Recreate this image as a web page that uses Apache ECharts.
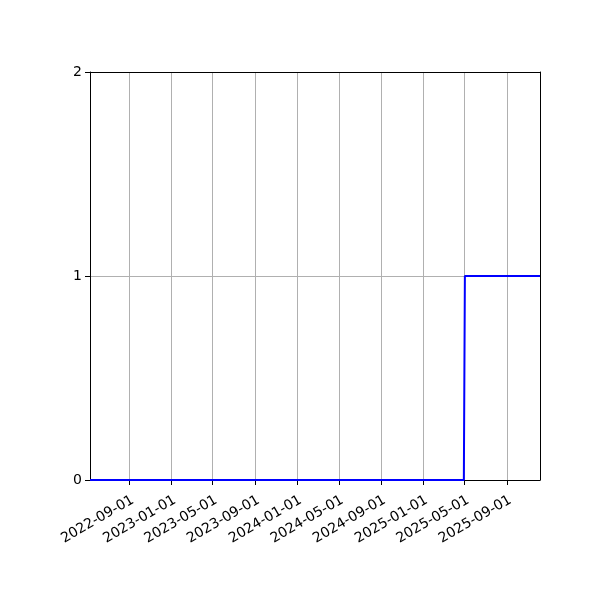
<html><head><meta charset='utf-8'>
<script src='https://cdn.jsdelivr.net/npm/echarts@6/dist/echarts.min.js'></script>
<style>body{margin:0}#main{width:600px;height:600px}</style>
</head><body>
<div id='main'></div>
<script>
// values
var dates = ['2022-05-10', '2025-04-29', '2025-05-02', '2025-12-06'];
var counts = [0, 0, 1, 1];
var tickDates = ['2022-09-01', '2023-01-01', '2023-05-01', '2023-09-01', '2024-01-01',
  '2024-05-01', '2024-09-01', '2025-01-01', '2025-05-01', '2025-09-01'];
var yTicks = [0, 1, 2];

var font = 'DejaVu Sans';
var frame = { show: true, onZero: false, lineStyle: { color: '#000', width: 1 } };
var chart = echarts.init(document.getElementById('main'));
chart.setOption({
  animation: false,
  grid: { left: 90, right: 60, top: 72, bottom: 120 },
  xAxis: [{
    type: 'time',
    min: dates[0],
    max: dates[dates.length - 1],
    axisLine: frame,
    axisTick: { show: true, length: 5, lineStyle: { color: '#000' }, customValues: tickDates },
    axisLabel: {
      customValues: tickDates,
      formatter: '{yyyy}-{MM}-{dd}',
      rotate: 30,
      verticalAlign: 'top',
      color: '#000',
      fontFamily: font,
      fontSize: 14,
      margin: 13
    },
    splitLine: { show: true, lineStyle: { color: '#b0b0b0', width: 1 } },
    z: 1
  }, {
    // top spine
    type: 'time', position: 'top',
    min: dates[0], max: dates[dates.length - 1],
    axisLine: frame, axisTick: { show: false }, axisLabel: { show: false },
    splitLine: { show: false }, z: 5
  }],
  yAxis: [{
    type: 'value',
    min: yTicks[0],
    max: yTicks[yTicks.length - 1],
    interval: 1,
    axisLine: frame,
    axisTick: { show: true, length: 5, lineStyle: { color: '#000' } },
    axisLabel: { color: '#000', fontFamily: font, fontSize: 14, margin: 8 },
    splitLine: { show: true, showMinLine: false, showMaxLine: false, lineStyle: { color: '#b0b0b0', width: 1 } }
  }, {
    // right spine
    type: 'value', position: 'right',
    min: yTicks[0], max: yTicks[yTicks.length - 1], interval: 1,
    axisLine: frame, axisTick: { show: false }, axisLabel: { show: false },
    splitLine: { show: false }, z: 5
  }],
  series: [{
    type: 'line',
    data: dates.map(function (d, i) { return [d, counts[i]]; }),
    showSymbol: false,
    lineStyle: { color: '#0000ff', width: 2 },
    z: 3
  }]
});
</script>
</body></html>
